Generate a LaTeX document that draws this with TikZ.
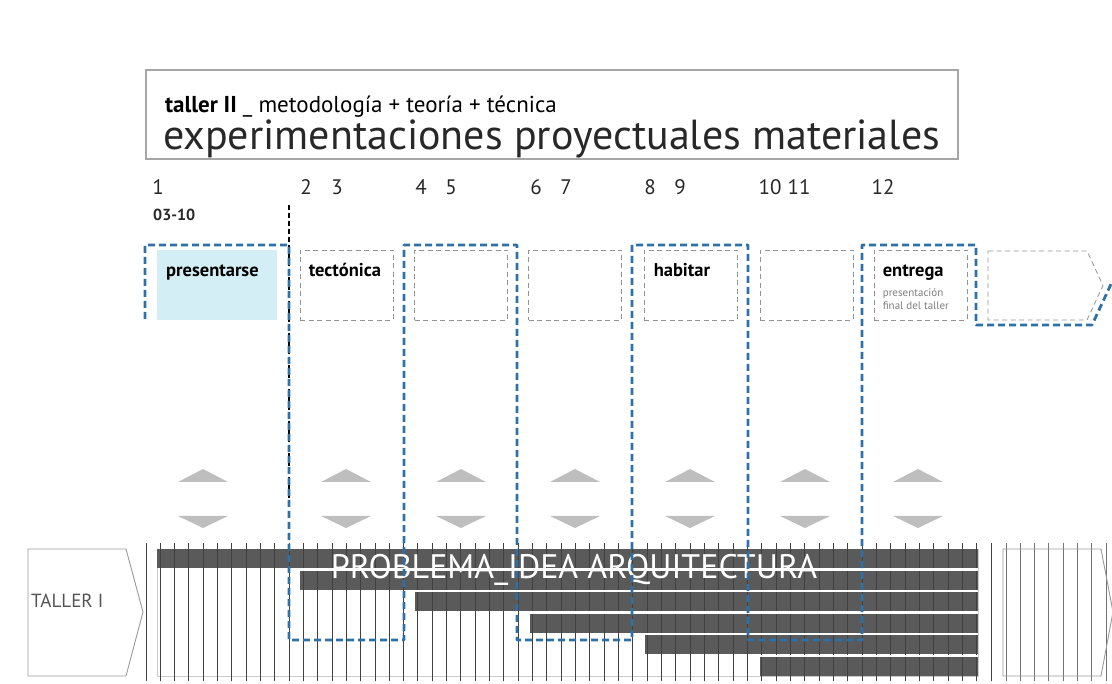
\documentclass[tikz,border=0pt]{standalone}
\usepackage{fontspec}
\setmainfont{PT Sans}
\usetikzlibrary{positioning, calc}

\definecolor{meanderblue}{RGB}{46,112,168}
\definecolor{paleblue}{RGB}{211,238,245}
\definecolor{bargray}{RGB}{90,90,90}
\definecolor{trigray}{RGB}{190,190,190}
\definecolor{inkgray}{RGB}{40,40,40}

\tikzset{
  weekbox/.style={draw=gray!85, dash pattern=on 5pt off 3.5pt, line width=0.8pt, minimum width=93pt, minimum height=70pt, inner sep=0pt},
  weeklabel/.style={anchor=base west, inner sep=0pt, text=black, font=\fontsize{18.5}{20}\selectfont\bfseries},
  weeknum/.style={anchor=base, inner sep=0pt, text=inkgray, font=\fontsize{21}{23}\selectfont},
  meander/.style={draw=meanderblue, line width=2.8pt, dash pattern=on 7pt off 4pt},
  gridline/.style={draw=black!75, line width=0.9pt},
  pentagon/.style={draw=gray!80, line width=0.9pt}
}

\begin{document}
\begin{tikzpicture}[x=1pt, y=-1pt]
\useasboundingbox (0,0) rectangle (1112,684);

% cabecera
\draw[gray!70, line width=1.2pt] (146,70) rectangle (958,159);
\node[anchor=base west, inner sep=0pt, font=\fontsize{23}{25}\selectfont] (subtitle) at (165,113) {\textbf{taller II} \_ metodología + teoría + técnica};
\node[anchor=base west, inner sep=0pt, font=\fontsize{42}{45}\selectfont, text=inkgray] (title) at (163,150) {experimentaciones proyectuales materiales};

% semanas
\foreach \n/\nx in {1/158,2/306,3/337,4/421,5/451,6/536,7/566,8/650,9/680,10/770,11/799,12/883}
  \node[weeknum] (num\n) at (\nx,195) {\n};
\node[anchor=base west, inner sep=0pt, font=\fontsize{16}{18}\selectfont\bfseries, text=inkgray] (date) at (153,221) {03-10};

% cajas
\fill[paleblue] (157,250) rectangle (277,320);
\node[weeklabel] (lpres) at (166,277) {presentarse};
\node[weekbox] (w2) at (346.5,285) {};
\node[weeklabel] (ltect) at ([shift={(9,27)}]w2.north west) {tectónica};
\node[weekbox] (w3) at (461,285) {};
\node[weekbox] (w4) at (575,285) {};
\node[weekbox] (w5) at (690.5,285) {};
\node[weeklabel] (lhab) at ([shift={(10,27)}]w5.north west) {habitar};
\node[weekbox] (w6) at (806.5,285) {};
\node[weekbox] (w7) at (920.5,285) {};
\node[weeklabel] (lent) at ([shift={(9,27)}]w7.north west) {entrega};
\node[anchor=north west, inner sep=0pt, align=left, text=gray, font=\fontsize{11}{13}\selectfont] (lfin) at ([shift={(9,39)}]w7.north west) {presentación\\final del taller};
\draw[draw=gray!85, line width=0.8pt, dash pattern=on 5pt off 3.5pt] (988,251) -- (1087,251) -- (1103,285.5) -- (1087,320) -- (988,320) -- cycle;

% flechas
\foreach \cx in {203,346,461,575,690,805,918} {
  \fill[trigray] (\cx-25,482) -- (\cx,469) -- (\cx+25,482) -- cycle;
  \fill[trigray] (\cx-25,516) -- (\cx,528) -- (\cx+25,516) -- cycle;
}

% barras
\draw[gray!40, line width=0.8pt] (157,549) rectangle (978,676);
\foreach \sx [count=\i from 0] in {157,300,415,530,645,760}
  \fill[bargray] (\sx,549+21.6*\i) rectangle (978,568+21.6*\i);
\foreach \k in {0,...,57}
  \draw[gridline] (160+14.33*\k,543) -- (160+14.33*\k,681);
\foreach \sx [count=\i from 0] in {300,415,530,645,760}
  \draw[white, line width=2.4pt] (\sx,569.3+21.6*\i) -- (978,569.3+21.6*\i);
\node[anchor=base, inner sep=0pt, text=white, font=\fontsize{34}{36}\selectfont] (problema) at (574,578) {PROBLEMA\_IDEA ARQUITECTURA};

% taller I
\draw[pentagon] (28,549) -- (126,549) -- (143,612) -- (126,676) -- (28,676) -- cycle;
\node[anchor=base west, inner sep=0pt, text=inkgray!80, font=\fontsize{19}{21}\selectfont] (taller) at (31,607) {TALLER I};
\draw[gridline] (146,543) -- (146,681);

% siguiente
\draw[gridline] (991,543) -- (991,681);
\foreach \k in {0,...,7}
  \draw[gridline, draw=black!55] (1006+14.3*\k,543) -- (1006+14.3*\k,681);
\draw[pentagon] (1003,549) -- (1101,549) -- (1113,612) -- (1101,676) -- (1003,676) -- cycle;

% recorrido
\draw[black, line width=2.4pt, dash pattern=on 5pt off 3pt] (289,205) -- (289,500);
\draw[meander, line join=round] (145,319) -- (145,245) -- (289,245) -- (289,640) -- (404,640) -- (404,245)
  -- (517,245) -- (517,640) -- (632,640) -- (632,245) -- (748,245) -- (748,640) -- (862,640)
  -- (862,245) -- (976,245) -- (976,325) -- (1092,325) -- (1112,282);

\end{tikzpicture}
\end{document}
